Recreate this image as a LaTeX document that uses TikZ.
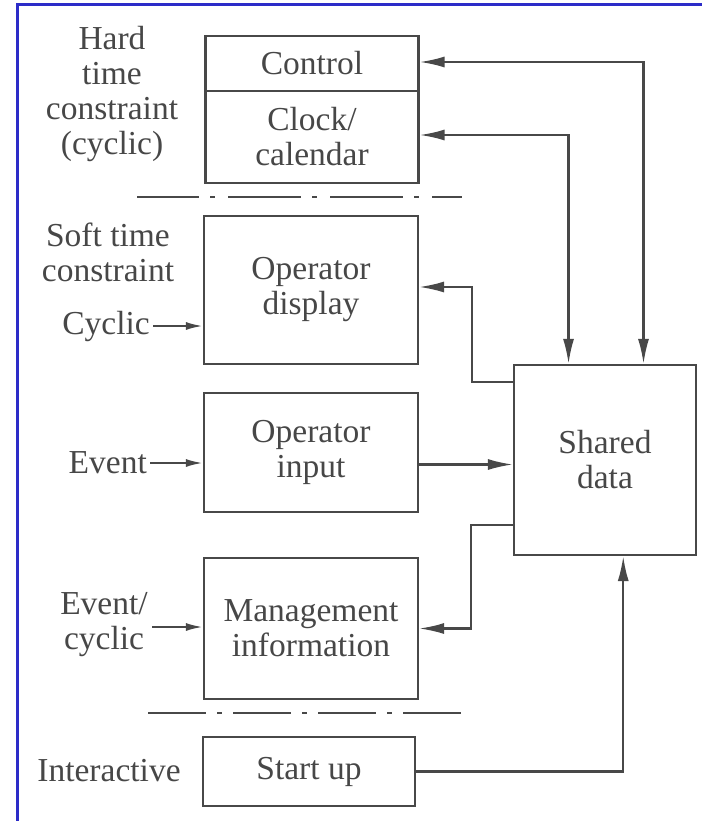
\documentclass[tikz,border=0pt]{standalone}
\usepackage{fontspec}
\setmainfont{Liberation Serif}
\usetikzlibrary{arrows.meta,calc}
\definecolor{ink}{HTML}{484848}
\definecolor{txt}{HTML}{474747}
\definecolor{frameblue}{HTML}{2C2CC8}
\begin{document}
\begin{tikzpicture}[x=1pt,y=-1pt,
  every node/.style={font=\fontsize{33.5}{35}\selectfont, text=txt},
  blk/.style={draw=ink, line width=2.2pt, minimum width=213pt, inner sep=0pt, align=center},
  lbl/.style={align=center, inner sep=0pt},
  conn/.style={draw=ink, line width=2.2pt},
  bigarr/.style={-{Latex[length=25pt,width=11pt]}},
  bigarrs/.style={{Latex[length=25pt,width=11pt]}-{Latex[length=25pt,width=11pt]}},
  smallarr/.style={-{Latex[length=17pt,width=8pt]}},
  sep1/.style={draw=ink, line width=2.2pt, dash pattern=on 73pt off 11pt on 5pt off 13pt, dash phase=11pt},
  sep2/.style={draw=ink, line width=2.2pt, dash pattern=on 58pt off 11pt on 5pt off 11pt}]
\useasboundingbox (0,0) rectangle (702,821);
\fill[white] (0,0) rectangle (702,821);
% blue frame
\draw[frameblue, line width=3pt] (17,821) -- (17,5) -- (702,5);

% boxes
\node[blk, minimum height=55pt] (control) at (312,63.5) {Control};
\node[blk, minimum height=92pt] (clock) at (312,137) {Clock/\\calendar};
\node[blk, minimum height=148pt, minimum width=214pt] (display) at (311,290) {Operator\\display};
\node[blk, minimum height=119pt, minimum width=214pt] (input) at (311,452.5) {Operator\\input};
\node[blk, minimum height=141pt, minimum width=214pt] (mgmt) at (311,628.5) {Management\\information};
\node[blk, minimum height=69pt, minimum width=212pt] (startup) at (309,771.5) {Start up};
\node[blk, minimum height=190pt, minimum width=182pt] (shared) at (605,460) {Shared\\data};

% left labels
\node[lbl] (hard) at (112,93.5) {Hard\\time\\constraint\\(cyclic)};
\node[lbl] (soft) at (108,252) {Soft time\\constraint};
\node[lbl, anchor=east] (cyc) at (150,326) {Cyclic};
\node[lbl, anchor=east] (event) at (147,463) {Event};
\node[lbl] (evcyc) at (104,625) {Event/\\cyclic};
\node[lbl] (inter) at (109,771) {Interactive};

% separators
\coordinate (s1a) at (137,197);
\coordinate (s1b) at (462,197);
\coordinate (s2a) at (148,713);
\coordinate (s2b) at (461,713);
\path[sep1] (s1a) -- (s1b);
\path[sep2] (s2a) -- (s2b);

% input arrows
\path[conn, smallarr] (cyc.east) ++(3,0) -- (display.west |- cyc.east);
\path[conn, smallarr] (event.east) ++(3,0) -- (input.west |- event.east);
\coordinate (evc) at (152,627);
\path[conn, smallarr] (evc) -- (mgmt.west |- evc);

% shared data connectors
\coordinate (sTopA) at ($(shared.north west)!0.302!(shared.north east)$);
\coordinate (sTopB) at ($(shared.north west)!0.709!(shared.north east)$);
\coordinate (sBot) at ($(shared.south west)!0.599!(shared.south east)$);
\coordinate (sW1) at ($(shared.north west)+(0,18)$);
\coordinate (sW2) at ($(shared.south west)+(0,-31)$);
\coordinate (ctrlR) at ($(control.east)+(0,-1.5)$);
\coordinate (clkR) at ($(clock.east)+(0,-2)$);
\coordinate (dispR) at ($(display.east)+(0,-3)$);
\coordinate (inR) at ($(input.east)+(0,12)$);

\path[conn, bigarrs] (ctrlR) -| (sTopB);
\path[conn, bigarrs] (clkR) -| (sTopA);
\path[conn, bigarr] (sW1) -- ++(-41,0) |- (dispR);
\path[conn, bigarr] (inR) -- (shared.west |- inR);
\path[conn, bigarr] (sW2) -- ++(-42,0) |- (mgmt.east);
\path[conn, bigarr] (startup.east) -| (sBot);
\end{tikzpicture}
\end{document}
